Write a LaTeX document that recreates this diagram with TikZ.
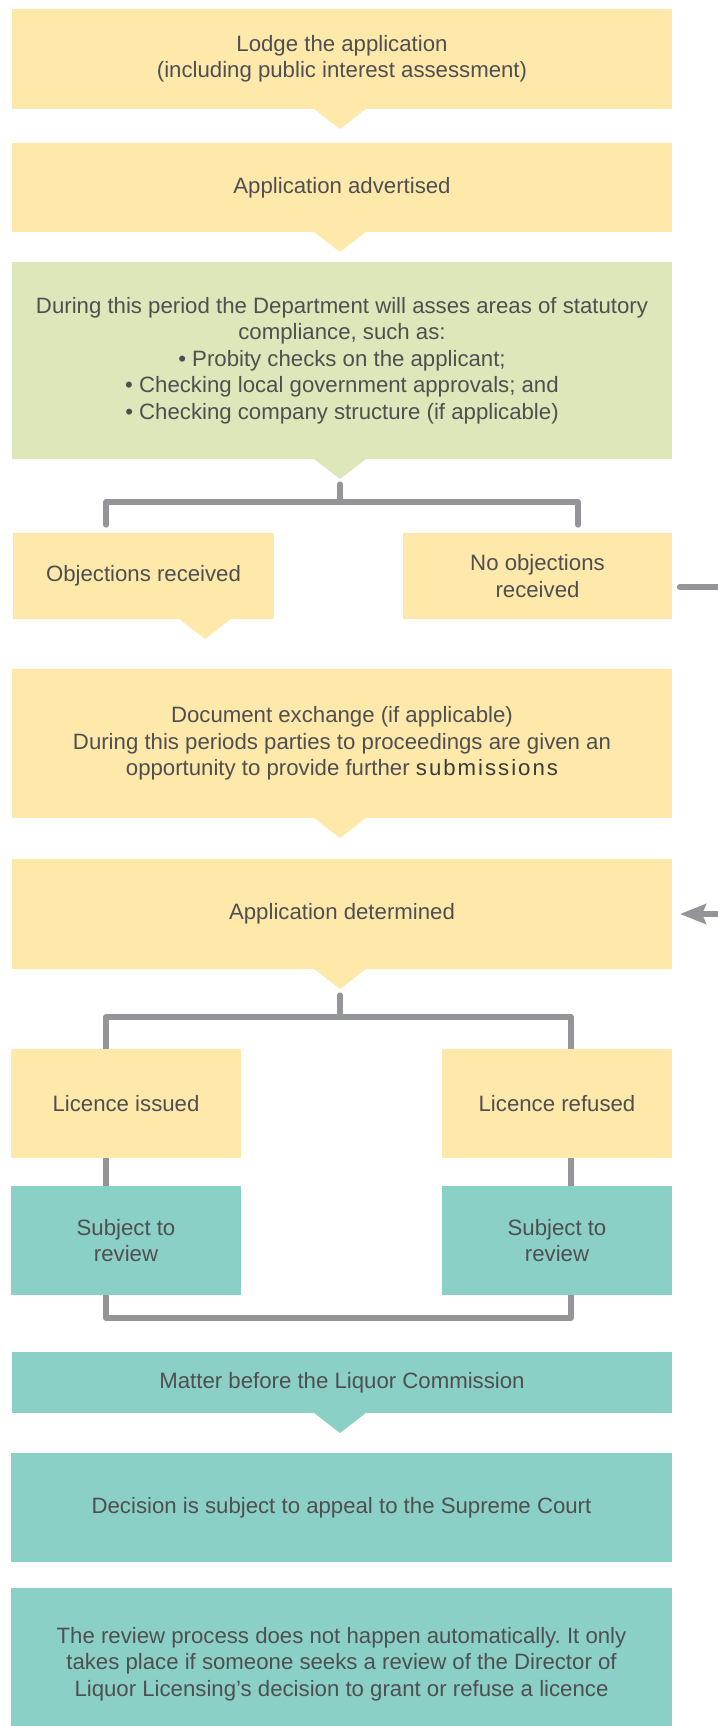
\documentclass[tikz,border=0pt]{standalone}
\usepackage{fontspec}
\setmainfont{Liberation Sans}
\usetikzlibrary{calc,arrows.meta,backgrounds}

\definecolor{boxyellow}{HTML}{FEE9AA}
\definecolor{boxgreen}{HTML}{DCE8B9}
\definecolor{boxteal}{HTML}{8AD0C7}
\definecolor{linegray}{HTML}{939598}
\definecolor{txt}{HTML}{4F4F51}
\definecolor{txtdark}{HTML}{3A3A3C}

\frenchspacing
\begin{document}
\begin{tikzpicture}[x=0.5pt,y=-0.5pt,
  box/.style={inner sep=0pt, outer sep=0pt, align=center, text=txt,
    anchor=center, font=\fontsize{11.1}{13.2}\selectfont},
  size/.style 2 args={minimum width=#1*0.5pt, minimum height=#2*0.5pt},
  ybox/.style={box, fill=boxyellow},
  gbox/.style={box, fill=boxgreen},
  tbox/.style={box, fill=boxteal},
  bar/.style={draw=linegray, line width=2.6pt, line cap=round, line join=round},
  pointer/.style={-{Stealth[length=13pt,width=10pt,inset=2pt]}},
]
\useasboundingbox (0,0) rectangle (718,1726);
\clip (0,0) rectangle (718,1726);

% process boxes
\node[ybox, size={660}{100}] (lodge) at (342,59)
  {Lodge the application\\(including public interest assessment)};
\node[ybox, size={660}{89}] (adv) at (342,187.5) {Application advertised};
\node[gbox, size={660}{197}] (green) at (342,360.5)
  {During this period the Department will asses areas of statutory\\
   compliance, such as:\\
   • Probity checks on the applicant;\\
   • Checking local government approvals; and\\
   • Checking company structure (if applicable)};
\node[ybox, size={261}{86}] (objr) at (143.5,576) {Objections received};
\node[ybox, size={269}{86}] (noobj) at (537.5,576) {No objections\\received};
\node[ybox, size={660}{149}] (doc) at (342,743.5)
  {Document exchange (if applicable)\\
   During this periods parties to proceedings are given an\\
   opportunity to provide further {\addfontfeature{LetterSpace=9}\color{txtdark}submissions}};
\node[ybox, size={660}{110}] (detd) at (342,914) {Application determined};
\node[ybox, size={230}{109}] (lic) at (126,1103.5) {Licence issued};
\node[ybox, size={230}{109}] (ref) at (557,1103.5) {Licence refused};
\node[tbox, size={230}{109}] (subl) at (126,1240.5) {Subject to\\review};
\node[tbox, size={230}{109}] (subr) at (557,1240.5) {Subject to\\review};
\node[tbox, size={660}{61}] (matter) at (342,1382.5)
  {Matter before the Liquor Commission};
\node[tbox, size={661}{109}] (decision) at (341.5,1507.5)
  {Decision is subject to appeal to the Supreme Court};
% the last box runs on past the lower edge
\node[tbox, size={661}{152}] (review) at (341.5,1664)
  {The review process does not happen automatically. It only\\
   takes place if someone seeks a review of the Director of\\
   Liquor Licensing’s decision to grant or refuse a licence};

% downward pointers under the boxes
\fill[boxyellow] ($(lodge.south)+(-28.5,-0.5)$) -- ++(26.5,20.5) -- ++(26.5,-20.5) -- cycle;
\fill[boxyellow] ($(adv.south)+(-28.5,-0.5)$) -- ++(26.5,20.5) -- ++(26.5,-20.5) -- cycle;
\fill[boxgreen] ($(green.south)+(-28.5,-0.5)$) -- ++(26.5,20.5) -- ++(26.5,-20.5) -- cycle;
\fill[boxyellow] ($(objr.south)+(35,-0.5)$) -- ++(26.5,20.5) -- ++(26.5,-20.5) -- cycle;
\fill[boxyellow] ($(doc.south)+(-28.5,-0.5)$) -- ++(26.5,20.5) -- ++(26.5,-20.5) -- cycle;
\fill[boxyellow] ($(detd.south)+(-28.5,-0.5)$) -- ++(26.5,20.5) -- ++(26.5,-20.5) -- cycle;
\fill[boxteal] ($(matter.south)+(-28.5,-0.5)$) -- ++(26.5,20.5) -- ++(26.5,-20.5) -- cycle;

\begin{pgfonlayer}{background}
  \fill[white] (0,0) rectangle (718,1726);
  % split after the compliance checks
  \draw[bar] ($(green.south)+(-2,25)$) -- ($(green.south)+(-2,43)$);
  \draw[bar] ($(objr.north)+(-37.5,-8)$) |- ($(noobj.north)+(40.5,-31)$)
    -- ($(noobj.north)+(40.5,-8)$);
  % no objections: straight on to the determination
  \draw[bar, pointer] ($(noobj.east)+(7.5,11)$) -- ++(90,0)
    |- ($(detd.east)+(8,0)$);
  % split after the determination, joined again below the reviews
  \draw[bar] ($(detd.south)+(-2,26)$) -- ($(detd.south)+(-2,48)$);
  \draw[bar] ($(lic.north)+(-20,-32)$) -- ($(subl.south)+(-20,23)$)
    -- ($(subr.south)+(14,23)$) -- ($(ref.north)+(14,-32)$) -- cycle;
\end{pgfonlayer}
\end{tikzpicture}
\end{document}
